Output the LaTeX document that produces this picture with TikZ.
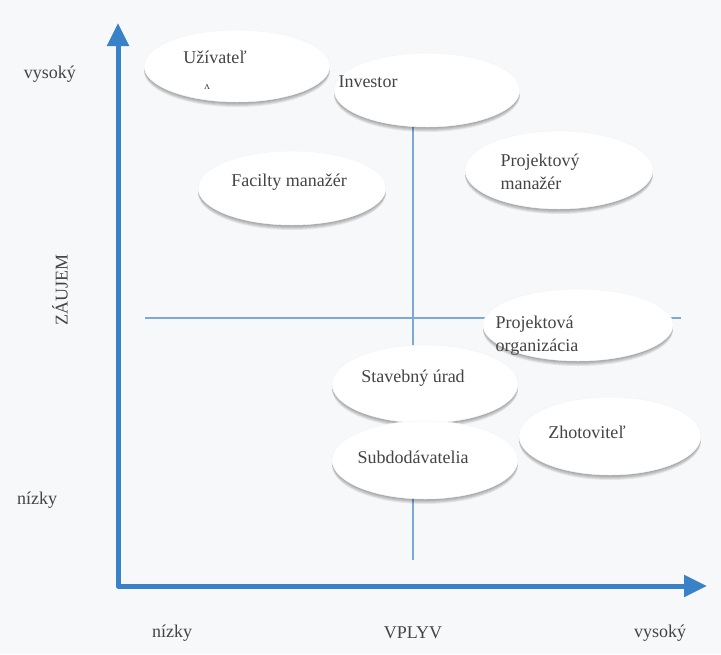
\documentclass[tikz,border=0pt]{standalone}
\usepackage{fontspec}
\setmainfont{Liberation Serif}
\usetikzlibrary{shapes.geometric,arrows.meta}
\definecolor{paper}{RGB}{246,248,250}
\definecolor{axisblue}{RGB}{58,130,200}
\definecolor{gridblue}{RGB}{125,168,215}
\definecolor{ink}{RGB}{68,68,68}
\tikzset{
  shadelayer/.style={preaction={fill=black, fill opacity=0.075,
    transform canvas={yshift=-#1}}},
  bubble/.style={ellipse, fill=white, draw=black!4, line width=0.5pt,
    minimum width=2*#1, inner sep=0pt,
    shadelayer=1pt, shadelayer=2pt, shadelayer=3pt, shadelayer=4pt,
    shadelayer=5pt},
  bubble/.default=93pt,
  lbl/.style={text=ink, font=\fontsize{18}{23}\selectfont, inner sep=0pt},
  axislbl/.style={text=ink, font=\fontsize{18}{20}\selectfont, inner sep=0pt},
  axis/.style={draw=axisblue, line width=5pt, line join=round,
    {Triangle[length=23pt,width=21pt]}-{Triangle[length=23pt,width=21pt]}},
  quad/.style={draw=gridblue, line width=1.1pt}
}
\begin{document}
\begin{tikzpicture}[x=1pt,y=-1pt]
\fill[paper] (0,0) rectangle (721,654);
\useasboundingbox (0,0) rectangle (721,654);

% quadrant dividers
\coordinate (vtop) at (413,120);
\coordinate (vbot) at (413,560);
\coordinate (hleft) at (145,318);
\coordinate (hright) at (681,318);
\draw[quad] (vtop) -- (vbot);
\draw[quad] (hleft) -- (hright);

% stakeholder bubbles
\node[bubble, minimum height=72pt] (e1) at (237,66) {};
\node[bubble, minimum height=74pt] (e2) at (427,90) {};
\node[bubble=94pt, minimum height=74pt] (e3) at (292,188) {};
\node[bubble=94pt, minimum height=78pt] (e4) at (559,170) {};
\node[bubble=95pt, minimum height=72pt] (e5) at (578,325) {};
\node[bubble, minimum height=78pt] (e6) at (425,384) {};
\node[bubble=91pt, minimum height=78pt] (e7) at (610,436) {};
\node[bubble, minimum height=78pt] (e8) at (425,460) {};

% bubble captions
\node[lbl] (t1) at (215,57) {Užívateľ};
\node[text=ink, font=\fontsize{11}{11}\selectfont, inner sep=0pt] (t1b) at (207,87) {ʌ};
\node[lbl] (t2) at (368,82) {Investor};
\node[lbl] (t3) at (289,182) {Facilty manažér};
\node[lbl, align=left] (t4) at (540,172) {Projektový\\manažér};
\node[lbl, align=left] (t5) at (537,336) {Projektová\\organizácia};
\node[lbl] (t6) at (413,378) {Stavebný úrad};
\node[lbl] (t7) at (587,432) {Zhotoviteľ};
\node[lbl] (t8) at (413,457) {Subdodávatelia};

% axes
\coordinate (ytip) at (118,23);
\coordinate (origin) at (118,586);
\coordinate (xtip) at (707,586);
\draw[axis] (ytip) -- (origin) -- (xtip);

% axis labels
\node[axislbl] (yhi) at (50,74) {vysoký};
\node[axislbl, rotate=90] (ytitle) at (60,290) {ZÁUJEM};
\node[axislbl] (ylo) at (37,500) {nízky};
\node[axislbl] (xlo) at (172,633) {nízky};
\node[axislbl] (xtitle) at (413,633) {VPLYV};
\node[axislbl] (xhi) at (660,633) {vysoký};
\end{tikzpicture}
\end{document}
